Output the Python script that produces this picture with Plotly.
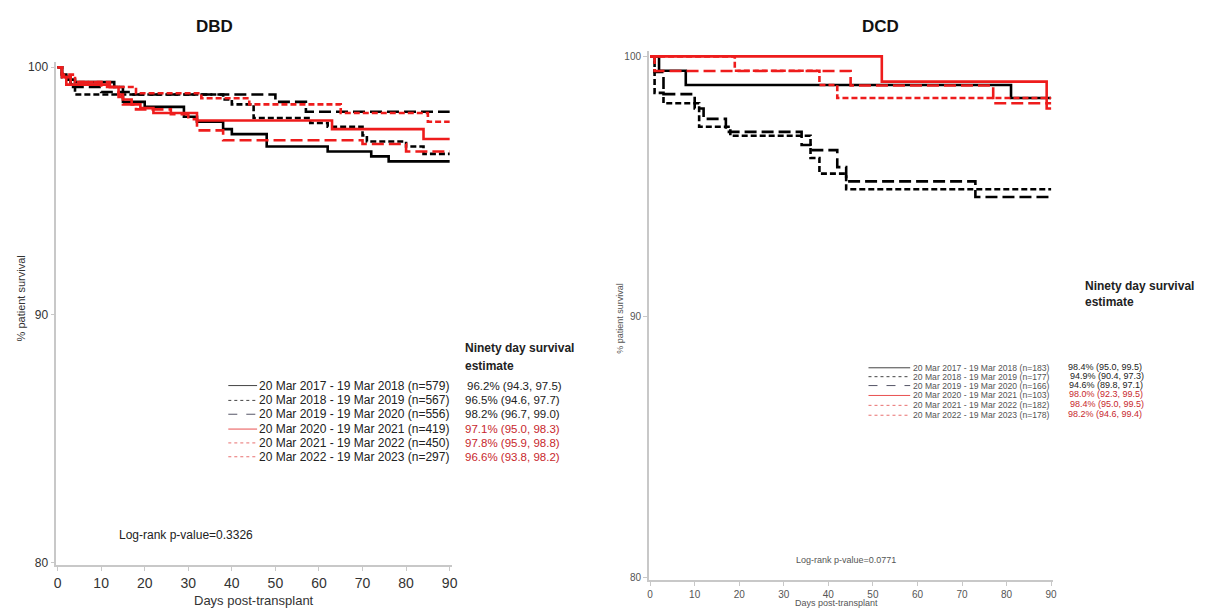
import plotly.graph_objects as go

# ---------------- Data ----------------
periods = [
    "20 Mar 2017 - 19 Mar 2018",
    "20 Mar 2018 - 19 Mar 2019",
    "20 Mar 2019 - 19 Mar 2020",
    "20 Mar 2020 - 19 Mar 2021",
    "20 Mar 2021 - 19 Mar 2022",
    "20 Mar 2022 - 19 Mar 2023",
]
dbd_n = [579, 567, 556, 419, 450, 297]
dcd_n = [183, 177, 166, 103, 182, 178]

dbd_estimates = ["96.2% (94.3, 97.5)", "96.5% (94.6, 97.7)", "98.2% (96.7, 99.0)",
                 "97.1% (95.0, 98.3)", "97.8% (95.9, 98.8)", "96.6% (93.8, 98.2)"]
dcd_estimates = ["98.4% (95.0, 99.5)", "94.9% (90.4, 97.3)", "94.6% (89.8, 97.1)",
                 "98.0% (92.3, 99.5)", "98.4% (95.0, 99.5)", "98.2% (94.6, 99.4)"]

dbd_pvalue = "0.3326"
dcd_pvalue = "0.0771"

# DBD Kaplan-Meier step points (day, % surviving)
dbd_days_1718 = [0, 1, 2, 4, 13, 15, 20, 29, 32, 38, 40, 48, 62, 72, 76, 90]
dbd_surv_1718 = [100, 99.7, 99.5, 99.4, 99.2, 98.6, 98.4, 98.0, 97.8, 97.5, 97.3, 96.8, 96.6, 96.4, 96.2, 96.2]
dbd_days_1819 = [0, 1, 3, 4, 38, 40, 45, 58, 62, 70, 71, 80, 84, 90]
dbd_surv_1819 = [100, 99.6, 99.3, 98.9, 98.7, 98.5, 97.95, 97.75, 97.6, 97.25, 97.0, 96.8, 96.5, 96.5]
dbd_days_1920 = [0, 1, 3, 10, 17, 50, 57, 90]
dbd_surv_1920 = [100, 99.6, 99.2, 99.0, 98.9, 98.6, 98.2, 98.2]
dbd_days_2021 = [0, 1, 2, 12, 14, 15, 17, 19, 22, 32, 63, 84, 90]
dbd_surv_2021 = [100, 99.6, 99.3, 99.2, 98.9, 98.7, 98.5, 98.35, 98.15, 97.85, 97.5, 97.1, 97.1]
dbd_days_2122 = [0, 1, 4, 12, 18, 33, 44, 65, 85, 90]
dbd_surv_2122 = [100, 99.7, 99.4, 99.2, 98.95, 98.75, 98.5, 98.15, 97.8, 97.8]
dbd_days_2223 = [0, 1, 3, 10, 14, 15, 18, 26, 30, 32, 38, 70, 80, 90]
dbd_surv_2223 = [100, 99.6, 99.4, 99.2, 98.8, 98.5, 98.3, 98.1, 97.9, 97.45, 97.05, 96.9, 96.6, 96.6]

# DCD Kaplan-Meier step points (day, % surviving)
dcd_days_1718 = [0, 2, 8, 81, 90]
dcd_surv_1718 = [100, 99.45, 98.9, 98.4, 98.4]
dcd_days_1819 = [0, 1, 3, 11, 18, 36, 38, 44, 90]
dcd_surv_1819 = [100, 98.6, 98.2, 97.3, 96.95, 96.1, 95.5, 94.9, 94.9]
dcd_days_1920 = [0, 1, 3, 10, 12, 17, 34, 36, 42, 44, 73, 90]
dcd_surv_1920 = [100, 99.4, 98.55, 98.0, 97.6, 97.1, 96.6, 96.4, 95.75, 95.2, 94.6, 94.6]
dcd_days_2021 = [0, 52, 89, 90]
dcd_surv_2021 = [100, 99.03, 98.0, 98.0]
dcd_days_2122 = [0, 19, 38, 42, 90]
dcd_surv_2122 = [100, 99.45, 98.9, 98.4, 98.4]
dcd_days_2223 = [0, 1, 45, 77, 90]
dcd_surv_2223 = [100, 99.44, 98.88, 98.2, 98.2]

# ---------------- Styles ----------------
RED = "#ee1c1c"
TXT_RED = "#c8282d"
styles = [
    dict(color="black", dash="solid"),
    dict(color="black", dash="6px,3px"),
    dict(color="black", dash="12px,5px"),
    dict(color=RED, dash="solid"),
    dict(color=RED, dash="6px,3px"),
    dict(color=RED, dash="12px,5px"),
]
legend_styles = [
    dict(color="#444", dash="solid"),
    dict(color="#444", dash="dot"),
    dict(color="#556", dash="dash"),
    dict(color="#e85050", dash="solid"),
    dict(color="#e87070", dash="dot"),
    dict(color="#e87070", dash="dot"),
]
text_colors = ["#222", "#222", "#222", TXT_RED, TXT_RED, TXT_RED]

W, H = 1205, 614
FONT = "Liberation Sans, Arial, sans-serif"

dbd_series = [(dbd_days_1718, dbd_surv_1718), (dbd_days_1819, dbd_surv_1819),
              (dbd_days_1920, dbd_surv_1920), (dbd_days_2021, dbd_surv_2021),
              (dbd_days_2122, dbd_surv_2122), (dbd_days_2223, dbd_surv_2223)]
dcd_series = [(dcd_days_1718, dcd_surv_1718), (dcd_days_1819, dcd_surv_1819),
              (dcd_days_1920, dcd_surv_1920), (dcd_days_2021, dcd_surv_2021),
              (dcd_days_2122, dcd_surv_2122), (dcd_days_2223, dcd_surv_2223)]

fig = go.Figure()

for i, (d, s) in enumerate(dbd_series):
    fig.add_trace(go.Scatter(x=d, y=s, mode="lines", line_shape="hv",
                             line=dict(width=2.6, **styles[i]),
                             xaxis="x", yaxis="y", showlegend=False,
                             name=periods[i]))
for i, (d, s) in enumerate(dcd_series):
    fig.add_trace(go.Scatter(x=d, y=s, mode="lines", line_shape="hv",
                             line=dict(width=2.6, **styles[i]),
                             xaxis="x2", yaxis="y2", showlegend=False,
                             name=periods[i]))


def px_x(p):
    return p / W


def px_y(p):
    return 1 - p / H


# panel geometry (pixels)
dbd_x0, dbd_xpd = 55, 4.389      # x pixel of day 0, pixels per day
dbd_y100, dbd_ypu = 66, 25.05    # y pixel of 100%, pixels per %
dcd_x0, dcd_xpd = 652, 4.489
dcd_y100, dcd_ypu = 55, 26.35

xr = [-0.3, 90.5]
yr = [79.9, 100.2]


def domains(x0, xpd, y100, ypu):
    xd = [px_x(x0 + xr[0] * xpd), px_x(x0 + xr[1] * xpd)]
    yd = [px_y(y100 + (100 - yr[0]) * ypu), px_y(y100 + (100 - yr[1]) * ypu)]
    return xd, yd


dbd_xd, dbd_yd = domains(dbd_x0, dbd_xpd, dbd_y100, dbd_ypu)
dcd_xd, dcd_yd = domains(dcd_x0, dcd_xpd, dcd_y100, dcd_ypu)

axis_common = dict(showgrid=False, zeroline=False, showline=True,
                   linecolor="#c8c8c8", linewidth=1.5, ticks="outside",
                   tickcolor="#c8c8c8", ticklen=4)

fig.update_layout(
    width=W, height=H,
    margin=dict(l=0, r=0, t=0, b=0),
    paper_bgcolor="white", plot_bgcolor="white",
    font=dict(family=FONT),
    xaxis=dict(domain=dbd_xd, range=xr, tickvals=list(range(0, 91, 10)),
               tickfont=dict(size=14, color="#333"), anchor="y", **axis_common),
    yaxis=dict(domain=dbd_yd, range=yr, tickvals=[80, 90, 100],
               tickfont=dict(size=12, color="#333"), anchor="x", **axis_common),
    xaxis2=dict(domain=dcd_xd, range=xr, tickvals=list(range(0, 91, 10)),
                tickfont=dict(size=10, color="#555"), anchor="y2", **axis_common),
    yaxis2=dict(domain=dcd_yd, range=yr, tickvals=[80, 90, 100],
                tickfont=dict(size=10, color="#555"), anchor="x2", **axis_common),
)

ann = []
shapes = []


def text(x, y, s, size, color="#222", bold=False, xanchor="left", angle=0, family=FONT):
    ann.append(dict(x=px_x(x), y=px_y(y), xref="paper", yref="paper",
                    text=f"<b>{s}</b>" if bold else s, showarrow=False,
                    xanchor=xanchor, yanchor="middle", textangle=angle,
                    font=dict(size=size, color=color, family=family)))


# panel titles
text(213, 25, "DBD", 17, "#111", bold=True, xanchor="center")
text(884, 25, "DCD", 17, "#111", bold=True, xanchor="center")

# axis titles
text(253, 605, "Days post-transplant", 13, "#333", xanchor="center")
text(840, 608, "Days post-transplant", 9, "#555", xanchor="center")
text(18, 300, "% patient survival", 11, "#333", xanchor="center", angle=-90)
text(622, 320, "% patient survival", 9, "#555", xanchor="center", angle=-90)

# log-rank annotations
text(184, 539, f"Log-rank p-value={dbd_pvalue}", 12, "#222", xanchor="center")
text(849, 564, f"Log-rank p-value={dcd_pvalue}", 9, "#555", xanchor="center")

# DBD legend block
text(463, 350, "Ninety day survival", 12, "#222", bold=True)
text(463, 368, "estimate", 12, "#222", bold=True)
dbd_rows = [388, 403, 417, 432, 446, 460]
for i, yy in enumerate(dbd_rows):
    shapes.append(dict(type="line", xref="paper", yref="paper",
                       x0=px_x(227), x1=px_x(256), y0=px_y(yy), y1=px_y(yy),
                       line=dict(width=1, **legend_styles[i])))
    text(256, yy, f"{periods[i]} (n={dbd_n[i]})", 12, "#222")
    text(463 if i else 465, yy, dbd_estimates[i], 11.5, text_colors[i])

# DCD legend block
text(1088, 287, "Ninety day survival", 12, "#222", bold=True)
text(1088, 303, "estimate", 12, "#222", bold=True)
dcd_rows = [370, 379, 388, 398, 408, 418]
dcd_est_x = [1071, 1073, 1072, 1072, 1073, 1071]
for i, yy in enumerate(dcd_rows):
    shapes.append(dict(type="line", xref="paper", yref="paper",
                       x0=px_x(872), x1=px_x(914), y0=px_y(yy), y1=px_y(yy),
                       line=dict(width=1, **legend_styles[i])))
    text(915, yy, f"{periods[i]} (n={dcd_n[i]})", 8.6, "#555")
    text(dcd_est_x[i], yy - 1, dcd_estimates[i], 9, text_colors[i])

fig.update_layout(annotations=ann, shapes=shapes)

fig.write_html("out.html")
